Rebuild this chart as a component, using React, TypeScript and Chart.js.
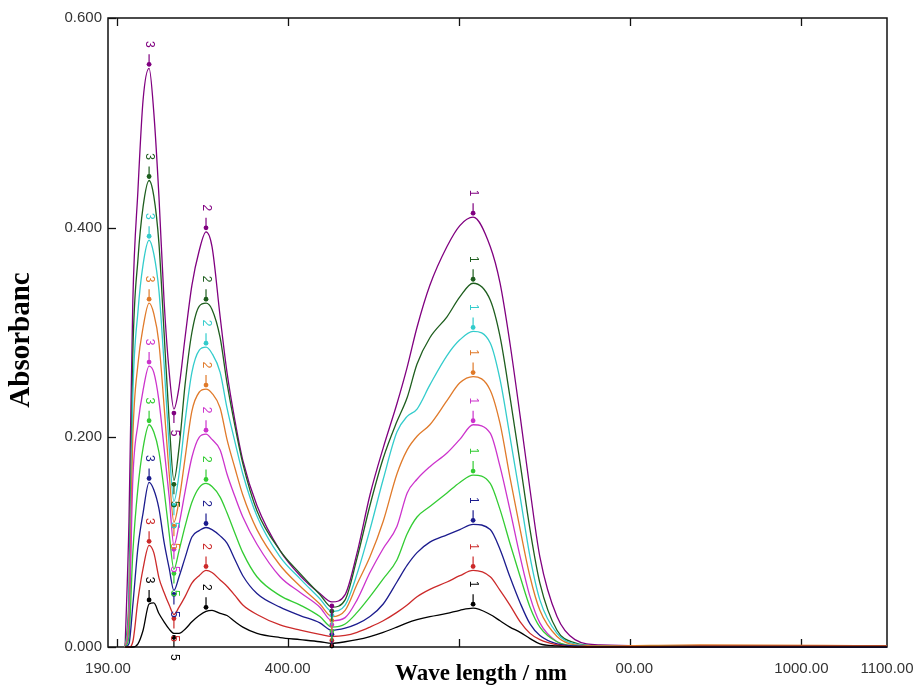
import React, { useEffect, useRef } from "react";
import { Chart, registerables } from "chart.js";

Chart.register(...registerables);

// Wavelength grid (nm)
const WAVELENGTHS = [
  210, 214.5, 219, 225, 231, 238, 243.5, 249.5, 255.5, 261.5, 267, 273, 280, 288, 296.5, 304.5,
  311.5, 321, 329, 338.5, 347.5, 364, 391, 414.5, 437.5, 451.5, 467, 481, 496, 511.5, 527.5,
  539.5, 551, 566, 586, 601, 616.5, 636.5, 648, 659.5, 671.5, 683, 694.5, 714.5, 735.5, 765,
  881.5, 1100,
];

// Absorbance series (lowest to highest)
const S_BLACK = [
  0, 0, 0, 0.003, 0.016, 0.041, 0.042, 0.032, 0.024, 0.017, 0.013, 0.013, 0.017, 0.024, 0.03, 0.034,
  0.035, 0.032, 0.03, 0.024, 0.019, 0.013, 0.009, 0.007, 0.005, 0.0035,
  0.005, 0.007, 0.01, 0.014, 0.019, 0.023, 0.026, 0.029, 0.032, 0.035, 0.037,
  0.031, 0.025, 0.019, 0.014, 0.008, 0.003, 0.001, 0, 0, 0, 0,
];
const S_RED = [
  0, 0, 0.005, 0.045, 0.075, 0.097, 0.09, 0.066, 0.052, 0.04, 0.031, 0.038, 0.048, 0.061, 0.068, 0.073,
  0.071, 0.064, 0.058, 0.049, 0.04, 0.031, 0.021, 0.016, 0.012, 0.01,
  0.011, 0.014, 0.019, 0.025, 0.033, 0.04, 0.048, 0.055, 0.062, 0.068, 0.073,
  0.067, 0.054, 0.04, 0.024, 0.013, 0.007, 0.002, 0, 0, 0.001, 0.001,
];
const S_BLUE = [
  0, 0.003, 0.04, 0.095, 0.128, 0.157, 0.15, 0.132, 0.1, 0.075, 0.054, 0.067, 0.085, 0.105, 0.111, 0.114,
  0.112, 0.106, 0.099, 0.083, 0.068, 0.051, 0.038, 0.03, 0.023, 0.016,
  0.018, 0.022, 0.029, 0.041, 0.062, 0.078, 0.09, 0.1, 0.107, 0.112, 0.117,
  0.112, 0.093, 0.067, 0.042, 0.022, 0.011, 0.003, 0.001, 0, 0, 0,
];
const S_GREEN = [
  0, 0.01, 0.09, 0.152, 0.19, 0.212, 0.205, 0.186, 0.15, 0.108, 0.074, 0.092, 0.115, 0.138, 0.152, 0.156,
  0.153, 0.143, 0.128, 0.108, 0.09, 0.067, 0.049, 0.04, 0.029, 0.019,
  0.022, 0.033, 0.048, 0.065, 0.083, 0.108, 0.124, 0.134, 0.147, 0.157, 0.164,
  0.156, 0.131, 0.099, 0.067, 0.038, 0.019, 0.005, 0.001, 0, 0.001, 0.001,
];
const S_MAGENTA = [
  0, 0.02, 0.16, 0.213, 0.245, 0.268, 0.262, 0.235, 0.19, 0.143, 0.097, 0.117, 0.148, 0.181, 0.2, 0.203,
  0.198, 0.188, 0.165, 0.143, 0.124, 0.098, 0.067, 0.052, 0.038, 0.025,
  0.028, 0.045, 0.071, 0.094, 0.115, 0.147, 0.16, 0.172, 0.185, 0.198, 0.212,
  0.204, 0.172, 0.131, 0.086, 0.048, 0.023, 0.005, 0.001, 0, 0, 0,
];
const S_ORANGE = [
  0, 0.03, 0.2, 0.27, 0.305, 0.328, 0.318, 0.29, 0.23, 0.165, 0.119, 0.14, 0.18, 0.225, 0.243, 0.246,
  0.242, 0.228, 0.198, 0.17, 0.145, 0.112, 0.078, 0.058, 0.041, 0.029,
  0.035, 0.06, 0.086, 0.12, 0.165, 0.188, 0.201, 0.212, 0.235, 0.252, 0.258,
  0.245, 0.213, 0.162, 0.112, 0.067, 0.035, 0.01, 0.002, 0.001, 0.002, 0.001,
];
const S_CYAN = [
  0, 0.04, 0.24, 0.32, 0.365, 0.388, 0.375, 0.34, 0.27, 0.19, 0.139, 0.165, 0.215, 0.262, 0.283, 0.286,
  0.28, 0.262, 0.228, 0.195, 0.165, 0.125, 0.086, 0.065, 0.046, 0.034,
  0.04, 0.07, 0.112, 0.16, 0.205, 0.22, 0.227, 0.25, 0.278, 0.293, 0.301,
  0.29, 0.255, 0.201, 0.143, 0.086, 0.045, 0.013, 0.003, 0.001, 0, 0,
];
const S_DKGREEN = [
  0, 0.05, 0.28, 0.37, 0.42, 0.445, 0.43, 0.385, 0.3, 0.215, 0.159, 0.19, 0.25, 0.3, 0.325, 0.328,
  0.322, 0.295, 0.252, 0.21, 0.175, 0.13, 0.092, 0.07, 0.05, 0.038,
  0.045, 0.085, 0.135, 0.18, 0.215, 0.238, 0.27, 0.295, 0.315, 0.334, 0.347,
  0.331, 0.296, 0.239, 0.175, 0.112, 0.061, 0.016, 0.004, 0.001, 0, 0,
];
const S_PURPLE = [
  0, 0.12, 0.33, 0.436, 0.522, 0.552, 0.51, 0.43, 0.33, 0.262, 0.227, 0.248, 0.295, 0.345, 0.378, 0.396,
  0.382, 0.315, 0.262, 0.215, 0.178, 0.135, 0.092, 0.068, 0.051, 0.043,
  0.05, 0.09, 0.145, 0.19, 0.232, 0.267, 0.305, 0.345, 0.382, 0.402, 0.41,
  0.382, 0.347, 0.29, 0.22, 0.15, 0.086, 0.029, 0.007, 0.002, 0.001, 0.001,
];

const SERIES_VALUES = [S_BLACK, S_RED, S_BLUE, S_GREEN, S_MAGENTA, S_ORANGE, S_CYAN, S_DKGREEN, S_PURPLE];
const SERIES_COLORS = ["#000000", "#cc2a2a", "#1c1c8e", "#33cc33", "#cc33cc", "#e07a2a", "#33cccc", "#1e5e1e", "#800080"];

// Peak-pick annotations: index into WAVELENGTHS, label, direction
const PICK_INDEX = [5, 10, 15, 25, 36];
const PICK_LABELS = ["3", "5", "2", "", "1"];
const PICK_UP = [true, false, true, false, true];

const X_TICKS = [190, 200, 400, 600, 800, 1000, 1100];
const X_TICK_LABELS = ["190.00", "", "400.00", "600.00", "800.00", "1000.00", "1100.00"];
const X_FRAME_TICKS = [200, 400, 600, 800, 1000];
const Y_TICKS = [0, 0.2, 0.4, 0.6];
const Y_TICK_LABELS = ["0.000", "0.200", "0.400", "0.600"];

const X_TITLE = "Wave length / nm";
const Y_TITLE = "Absorbanc";

const SANS = '"Liberation Sans", Arial, sans-serif';
const SERIF = '"Liberation Serif", "Times New Roman", serif';

const framePlugin = {
  id: "framePlugin",
  beforeDatasetsDraw(chart: any) {
    const ctx = chart.ctx;
    const { left, right, top, bottom } = chart.chartArea;
    ctx.save();
    ctx.strokeStyle = "#111";
    ctx.lineWidth = 1.5;
    ctx.strokeRect(left, top, right - left, bottom - top);
    ctx.lineWidth = 1.3;
    const xs = chart.scales.x;
    X_FRAME_TICKS.forEach((v) => {
      const px = Math.round(xs.getPixelForValue(v)) + 0.5;
      ctx.beginPath();
      ctx.moveTo(px, top);
      ctx.lineTo(px, top + 8);
      ctx.moveTo(px, bottom);
      ctx.lineTo(px, bottom - 8);
      ctx.stroke();
    });
    const ys = chart.scales.y;
    Y_TICKS.forEach((v) => {
      const py = Math.round(ys.getPixelForValue(v)) + 0.5;
      ctx.beginPath();
      ctx.moveTo(left, py);
      ctx.lineTo(left + 8, py);
      ctx.stroke();
    });
    ctx.restore();
  },
  afterDatasetsDraw(chart: any) {
    const ctx = chart.ctx;
    const { bottom } = chart.chartArea;
    ctx.save();
    chart.data.datasets.forEach((ds: any, di: number) => {
      const meta = chart.getDatasetMeta(di);
      const color = ds.borderColor;
      PICK_INDEX.forEach((idx, k) => {
        const pt = meta.data[idx];
        if (!pt) return;
        const dir = PICK_UP[k] ? -1 : 1;
        const x = pt.x;
        const y = pt.y;
        ctx.fillStyle = color;
        ctx.strokeStyle = color;
        ctx.lineWidth = 1.2;
        const dotY = Math.min(y + dir * 4, bottom - 1);
        ctx.beginPath();
        ctx.arc(x, dotY, 2.4, 0, Math.PI * 2);
        ctx.fill();
        ctx.beginPath();
        ctx.moveTo(x, y + dir * 2);
        ctx.lineTo(x, Math.min(y + dir * 14, bottom));
        ctx.stroke();
        const label = PICK_LABELS[k];
        if (label) {
          ctx.save();
          ctx.translate(x, y + dir * 24);
          ctx.rotate(Math.PI / 2);
          ctx.font = "12px " + SANS;
          ctx.textAlign = "center";
          ctx.textBaseline = "middle";
          ctx.fillText(label, 0, 0);
          ctx.restore();
        }
      });
    });
    ctx.restore();
  },
  afterDraw(chart: any) {
    const ctx = chart.ctx;
    const { bottom } = chart.chartArea;
    ctx.save();
    // white label box over the bottom axis labels
    ctx.fillStyle = "#ffffff";
    ctx.fillRect(370, bottom + 1.5, 246, chart.height - bottom);
    ctx.fillStyle = "#000";
    ctx.font = "bold 23px " + SERIF;
    ctx.textAlign = "center";
    ctx.textBaseline = "alphabetic";
    ctx.fillText(X_TITLE, 481, 680);
    // y title
    ctx.translate(22, 340);
    ctx.rotate(-Math.PI / 2);
    ctx.font = "bold 29px " + SERIF;
    ctx.textAlign = "center";
    ctx.textBaseline = "middle";
    ctx.fillText(Y_TITLE, 0, 0);
    ctx.restore();
  },
};

export default function App() {
  const canvasRef = useRef<HTMLCanvasElement | null>(null);

  useEffect(() => {
    if (!canvasRef.current) return;
    const datasets = SERIES_VALUES.map((vals, i) => ({
      label: "S" + (i + 1),
      data: WAVELENGTHS.map((w, j) => ({ x: w, y: vals[j] })),
      borderColor: SERIES_COLORS[i],
      backgroundColor: SERIES_COLORS[i],
      borderWidth: 1.3,
      pointRadius: 0,
      fill: false,
      cubicInterpolationMode: "monotone" as const,
      clip: 3,
    }));
    const chart = new Chart(canvasRef.current, {
      type: "line",
      data: { datasets },
      options: {
        animation: false,
        responsive: false,
        devicePixelRatio: 1,
        layout: { padding: { left: 0, right: 27, top: 18, bottom: 0 } },
        plugins: { legend: { display: false }, tooltip: { enabled: false } },
        scales: {
          x: {
            type: "linear",
            min: 190,
            max: 1100,
            grid: { display: false, drawTicks: false },
            border: { display: false },
            afterBuildTicks: (s: any) => {
              s.ticks = X_TICKS.map((v) => ({ value: v }));
            },
            afterFit: (s: any) => {
              s.height = 38;
              s.paddingLeft = 0;
              s.paddingRight = 0;
            },
            ticks: {
              autoSkip: false,
              maxRotation: 0,
              minRotation: 0,
              padding: 13,
              color: "#333",
              font: { family: SANS, size: 15 },
              callback: (_v: any, i: number) => X_TICK_LABELS[i],
            },
          },
          y: {
            type: "linear",
            min: 0,
            max: 0.6,
            grid: { display: false, drawTicks: false },
            border: { display: false },
            afterBuildTicks: (s: any) => {
              s.ticks = Y_TICKS.map((v) => ({ value: v }));
            },
            afterFit: (s: any) => {
              s.width = 108;
              s.paddingTop = 0;
              s.paddingBottom = 0;
            },
            ticks: {
              padding: 6,
              color: "#333",
              font: { family: SANS, size: 15 },
              callback: (_v: any, i: number) => Y_TICK_LABELS[i],
            },
          },
        },
      },
      plugins: [framePlugin],
    } as any);
    return () => chart.destroy();
  }, []);

  return (
    <div style={{ position: "fixed", left: 0, top: 0, width: 914, height: 685, background: "#fff" }}>
      <canvas ref={canvasRef} width={914} height={685} style={{ display: "block" }} />
    </div>
  );
}
